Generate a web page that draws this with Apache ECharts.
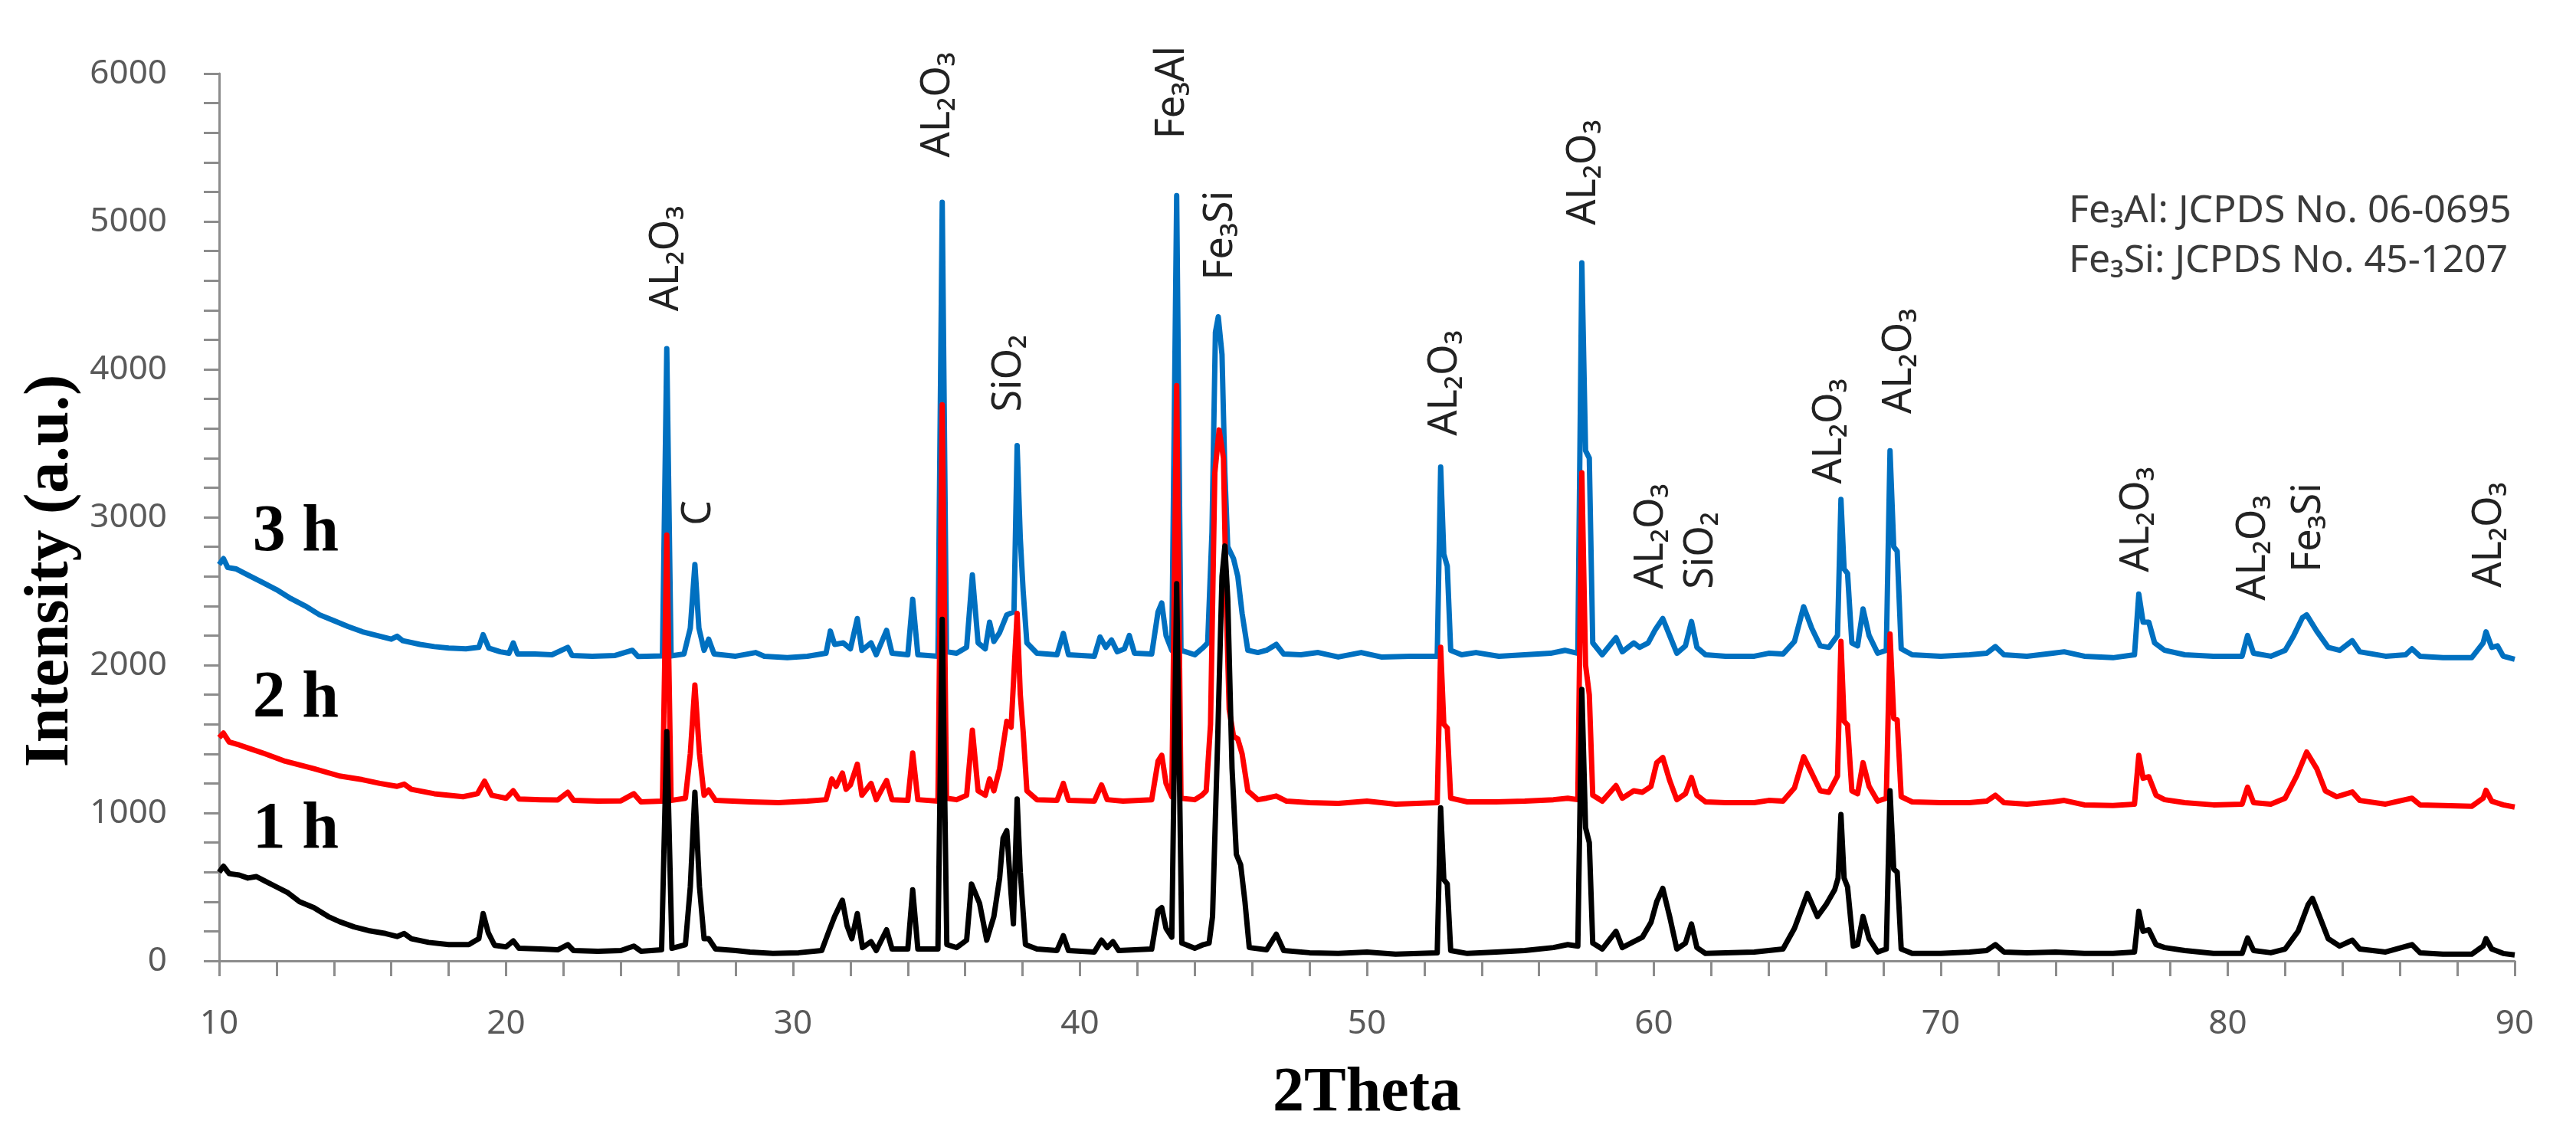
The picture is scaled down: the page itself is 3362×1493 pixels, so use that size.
<!DOCTYPE html>
<html>
<head>
<meta charset="utf-8">
<title>XRD 1 h / 2 h / 3 h</title>
<script src="https://cdn.jsdelivr.net/npm/echarts@6.0.0/dist/echarts.min.js"></script>
<style>
    html, body { margin: 0; padding: 0; background: #fff; }
    #xrdChart { width: 3362px; height: 1493px; }
</style>
</head>
<body>
<div id="xrdChart"></div>
<script>
// [2theta, intensity] pairs, one list per milling time
var scan3h = [
    [10.0, 2680], [10.15, 2720], [10.3, 2660], [10.6, 2650], [11.0, 2610], [11.5, 2560], [12.0, 2510], [12.5, 2450],
    [13.0, 2400], [13.5, 2340], [14.0, 2300], [14.5, 2260], [15.0, 2225], [15.5, 2200], [16.0, 2175], [16.2, 2195],
    [16.4, 2165], [17.0, 2140], [17.5, 2125], [18.0, 2115], [18.6, 2110], [19.05, 2120], [19.2, 2205], [19.4, 2115],
    [19.8, 2090], [20.1, 2080], [20.25, 2150], [20.4, 2075], [21.0, 2075], [21.6, 2070], [22.15, 2120], [22.3, 2065],
    [23.0, 2060], [23.8, 2065], [24.4, 2100], [24.6, 2058], [25.45, 2062], [25.6, 4140], [25.75, 2062], [26.2, 2075],
    [26.42, 2250], [26.58, 2680], [26.72, 2250], [26.9, 2100], [27.06, 2175], [27.25, 2075], [28.0, 2060], [28.7, 2085],
    [29.0, 2060], [29.8, 2050], [30.5, 2060], [31.15, 2080], [31.3, 2230], [31.45, 2140], [31.75, 2150], [32.0, 2110],
    [32.24, 2315], [32.4, 2100], [32.72, 2150], [32.9, 2070], [33.26, 2235], [33.45, 2080], [34.0, 2070], [34.17, 2445],
    [34.35, 2070], [35.05, 2060], [35.2, 5130], [35.35, 2090], [35.7, 2080], [36.05, 2120], [36.25, 2610], [36.45, 2150],
    [36.7, 2110], [36.85, 2290], [37.0, 2160], [37.2, 2220], [37.45, 2340], [37.7, 2360], [37.81, 3485], [37.92, 2860],
    [38.02, 2500], [38.15, 2150], [38.5, 2080], [39.2, 2070], [39.42, 2215], [39.6, 2070], [40.5, 2060], [40.7, 2190],
    [40.9, 2120], [41.1, 2170], [41.3, 2090], [41.55, 2110], [41.72, 2200], [41.9, 2080], [42.5, 2075], [42.72, 2360],
    [42.85, 2420], [43.0, 2200], [43.2, 2100], [43.37, 5175], [43.52, 2100], [44.0, 2070], [44.3, 2120], [44.45, 2150],
    [44.6, 2900], [44.72, 4250], [44.82, 4355], [44.95, 4100], [45.05, 3300], [45.15, 2800], [45.35, 2720], [45.5, 2600],
    [45.65, 2350], [45.85, 2100], [46.2, 2085], [46.5, 2100], [46.84, 2140], [47.1, 2075], [47.7, 2070], [48.3, 2085],
    [49.0, 2055], [49.8, 2085], [50.5, 2055], [51.5, 2060], [52.45, 2060], [52.57, 3340], [52.68, 2750], [52.8, 2670],
    [52.92, 2100], [53.3, 2070], [53.8, 2085], [54.6, 2060], [55.5, 2070], [56.4, 2080], [56.9, 2100], [57.35, 2080],
    [57.49, 4720], [57.62, 3450], [57.75, 3400], [57.87, 2150], [58.2, 2070], [58.68, 2185], [58.9, 2090], [59.3, 2150],
    [59.5, 2120], [59.8, 2150], [60.05, 2240], [60.31, 2315], [60.55, 2200], [60.8, 2080], [61.1, 2130], [61.31, 2295],
    [61.5, 2120], [61.8, 2070], [62.5, 2060], [63.5, 2060], [64.0, 2080], [64.5, 2075], [64.9, 2160], [65.22, 2395],
    [65.5, 2250], [65.8, 2130], [66.1, 2120], [66.4, 2200], [66.52, 3120], [66.63, 2650], [66.75, 2620], [66.9, 2150],
    [67.1, 2130], [67.29, 2380], [67.5, 2200], [67.8, 2080], [68.1, 2100], [68.23, 3450], [68.36, 2800], [68.48, 2770],
    [68.62, 2110], [69.0, 2070], [70.0, 2060], [71.0, 2070], [71.6, 2080], [71.9, 2125], [72.2, 2070], [73.0, 2060],
    [73.9, 2080], [74.3, 2090], [75.0, 2060], [76.0, 2050], [76.75, 2070], [76.9, 2480], [77.05, 2290], [77.25, 2290],
    [77.45, 2150], [77.8, 2100], [78.5, 2070], [79.5, 2060], [80.5, 2060], [80.69, 2200], [80.9, 2080], [81.5, 2060],
    [82.0, 2100], [82.3, 2200], [82.6, 2320], [82.75, 2340], [83.1, 2230], [83.5, 2120], [83.9, 2100], [84.34, 2165],
    [84.6, 2090], [85.5, 2060], [86.2, 2070], [86.42, 2110], [86.7, 2060], [87.5, 2050], [88.5, 2050], [88.9, 2150],
    [89.0, 2225], [89.2, 2120], [89.4, 2130], [89.6, 2060], [90.0, 2040]
];

var scan2h = [
    [10.0, 1510], [10.15, 1540], [10.35, 1480], [10.7, 1460], [11.0, 1440], [11.6, 1400], [12.3, 1350], [13.3, 1300],
    [14.2, 1250], [15.0, 1225], [15.6, 1200], [16.2, 1180], [16.45, 1195], [16.7, 1160], [17.5, 1130], [18.5, 1110],
    [19.0, 1130], [19.25, 1215], [19.5, 1120], [20.0, 1100], [20.25, 1150], [20.45, 1095], [21.2, 1090], [21.8, 1088],
    [22.15, 1140], [22.35, 1085], [23.2, 1080], [24.0, 1082], [24.45, 1130], [24.7, 1075], [25.45, 1080], [25.6, 2880],
    [25.75, 1085], [26.25, 1100], [26.42, 1400], [26.58, 1865], [26.74, 1400], [26.9, 1120], [27.06, 1155], [27.3, 1085],
    [28.5, 1075], [29.5, 1070], [30.5, 1080], [31.15, 1090], [31.35, 1230], [31.5, 1180], [31.72, 1270], [31.85, 1160],
    [32.0, 1190], [32.24, 1330], [32.4, 1120], [32.72, 1200], [32.9, 1090], [33.26, 1220], [33.45, 1090], [34.0, 1085],
    [34.17, 1405], [34.35, 1090], [35.05, 1080], [35.2, 3760], [35.35, 1100], [35.7, 1090], [36.05, 1120], [36.25, 1560],
    [36.45, 1150], [36.7, 1120], [36.85, 1230], [37.0, 1150], [37.2, 1300], [37.45, 1620], [37.6, 1580], [37.81, 2350],
    [37.92, 1800], [38.02, 1550], [38.15, 1150], [38.5, 1090], [39.2, 1085], [39.42, 1200], [39.6, 1085], [40.5, 1080],
    [40.75, 1190], [40.95, 1090], [41.5, 1080], [42.5, 1090], [42.72, 1350], [42.85, 1390], [43.0, 1200], [43.2, 1110],
    [43.37, 3890], [43.52, 1100], [44.0, 1090], [44.25, 1120], [44.4, 1150], [44.55, 1600], [44.7, 3300], [44.85, 3590],
    [45.0, 3400], [45.1, 2400], [45.2, 1700], [45.35, 1520], [45.5, 1500], [45.65, 1400], [45.85, 1150], [46.2, 1090],
    [46.5, 1100], [46.84, 1115], [47.2, 1080], [48.0, 1070], [49.0, 1065], [50.0, 1080], [51.0, 1060], [52.45, 1070],
    [52.57, 2120], [52.68, 1600], [52.8, 1575], [52.92, 1100], [53.5, 1075], [54.5, 1075], [55.5, 1080], [56.5, 1090],
    [57.0, 1100], [57.35, 1090], [57.49, 3300], [57.62, 2000], [57.75, 1800], [57.87, 1120], [58.2, 1080], [58.68, 1185],
    [58.9, 1100], [59.3, 1150], [59.6, 1140], [59.9, 1180], [60.1, 1340], [60.31, 1375], [60.55, 1220], [60.8, 1090],
    [61.1, 1130], [61.31, 1240], [61.5, 1120], [61.8, 1075], [62.5, 1070], [63.5, 1070], [64.0, 1085], [64.5, 1080],
    [64.9, 1170], [65.22, 1380], [65.5, 1270], [65.8, 1150], [66.1, 1140], [66.4, 1250], [66.52, 2160], [66.63, 1620],
    [66.75, 1595], [66.9, 1150], [67.1, 1130], [67.29, 1340], [67.5, 1180], [67.8, 1080], [68.1, 1100], [68.23, 2210],
    [68.36, 1640], [68.48, 1630], [68.62, 1110], [69.0, 1075], [70.0, 1070], [71.0, 1070], [71.6, 1080], [71.9, 1120],
    [72.2, 1070], [73.0, 1060], [73.9, 1075], [74.3, 1085], [75.0, 1055], [76.0, 1050], [76.75, 1060], [76.9, 1390],
    [77.05, 1235], [77.25, 1245], [77.5, 1120], [77.8, 1090], [78.5, 1070], [79.5, 1055], [80.5, 1060], [80.69, 1175],
    [80.9, 1070], [81.5, 1060], [82.0, 1100], [82.4, 1250], [82.75, 1412], [83.1, 1300], [83.4, 1150], [83.8, 1110],
    [84.34, 1142], [84.6, 1085], [85.5, 1060], [86.42, 1100], [86.7, 1055], [87.5, 1050], [88.5, 1045], [88.9, 1100],
    [89.0, 1153], [89.2, 1080], [89.6, 1055], [90.0, 1040]
];

var scan1h = [
    [10.0, 600], [10.15, 640], [10.35, 590], [10.7, 580], [11.0, 560], [11.3, 570], [11.6, 540], [12.0, 500],
    [12.4, 460], [12.8, 400], [13.3, 360], [13.8, 300], [14.2, 265], [14.7, 230], [15.2, 205], [15.8, 185],
    [16.2, 165], [16.45, 185], [16.7, 150], [17.3, 125], [18.0, 110], [18.7, 110], [19.05, 150], [19.2, 320],
    [19.38, 190], [19.6, 105], [20.0, 95], [20.25, 135], [20.45, 85], [21.2, 80], [21.8, 75], [22.15, 110],
    [22.35, 70], [23.2, 65], [24.0, 70], [24.45, 100], [24.7, 65], [25.42, 75], [25.6, 1550], [25.78, 85],
    [26.25, 110], [26.42, 500], [26.58, 1140], [26.74, 500], [26.9, 150], [27.06, 150], [27.3, 80], [28.0, 70],
    [28.5, 60], [29.3, 50], [30.2, 55], [31.0, 70], [31.25, 200], [31.45, 300], [31.72, 410], [31.88, 240],
    [32.05, 150], [32.24, 320], [32.42, 90], [32.72, 130], [32.9, 70], [33.26, 210], [33.45, 80], [34.0, 80],
    [34.17, 480], [34.35, 80], [35.05, 80], [35.2, 2310], [35.36, 110], [35.7, 90], [36.05, 140], [36.22, 520],
    [36.5, 390], [36.75, 140], [37.0, 300], [37.2, 560], [37.32, 830], [37.45, 880], [37.6, 450], [37.68, 250],
    [37.81, 1095], [37.92, 600], [38.1, 110], [38.5, 80], [39.2, 70], [39.42, 170], [39.6, 70], [40.5, 60],
    [40.75, 140], [40.95, 90], [41.15, 130], [41.35, 70], [42.5, 80], [42.72, 340], [42.85, 360], [43.0, 220],
    [43.2, 160], [43.37, 2550], [43.55, 120], [44.0, 85], [44.3, 110], [44.5, 120], [44.62, 300], [44.8, 1500],
    [44.95, 2600], [45.05, 2805], [45.15, 2450], [45.3, 1300], [45.45, 720], [45.6, 650], [45.75, 400], [45.9, 90],
    [46.5, 75], [46.84, 180], [47.1, 70], [48.0, 55], [49.0, 50], [50.0, 60], [51.0, 45], [52.45, 55],
    [52.57, 1035], [52.68, 550], [52.8, 520], [52.92, 70], [53.5, 50], [54.5, 60], [55.5, 70], [56.5, 90],
    [57.0, 110], [57.35, 100], [57.49, 1835], [57.62, 900], [57.75, 800], [57.87, 120], [58.2, 80], [58.68, 200],
    [58.9, 90], [59.3, 130], [59.6, 160], [59.9, 260], [60.1, 400], [60.31, 490], [60.55, 300], [60.8, 80],
    [61.1, 120], [61.31, 250], [61.5, 90], [61.8, 50], [62.5, 55], [63.5, 60], [64.0, 70], [64.5, 80],
    [64.9, 220], [65.35, 455], [65.7, 300], [66.0, 380], [66.3, 480], [66.42, 560], [66.52, 990], [66.63, 560],
    [66.75, 500], [66.95, 100], [67.1, 110], [67.29, 300], [67.5, 150], [67.8, 60], [68.1, 80], [68.23, 1150],
    [68.36, 620], [68.48, 600], [68.62, 80], [69.0, 50], [70.0, 50], [71.0, 60], [71.6, 70], [71.9, 110],
    [72.2, 60], [73.0, 55], [74.0, 60], [75.0, 50], [76.0, 50], [76.75, 60], [76.9, 335], [77.05, 200],
    [77.25, 210], [77.5, 110], [77.8, 90], [78.5, 70], [79.5, 50], [80.5, 50], [80.69, 155], [80.9, 70],
    [81.5, 55], [82.0, 80], [82.45, 200], [82.8, 380], [82.95, 423], [83.2, 300], [83.5, 150], [83.9, 100],
    [84.34, 140], [84.6, 80], [85.5, 60], [86.42, 110], [86.7, 55], [87.5, 45], [88.5, 45], [88.9, 100],
    [89.0, 150], [89.2, 80], [89.6, 50], [90.0, 40]
];

// phase labels: [2theta, intensity where the text starts, text]
var peakLabels = [
    [25.59, 4393, 'AL₂O₃'], [26.72, 2944, 'C'], [35.05, 5433, 'AL₂O₃'], [37.54, 3712, 'SiO₂'],
    [43.22, 5558, 'Fe₃Al'], [44.9, 4604, 'Fe₃Si'], [52.72, 3551, 'AL₂O₃'], [57.57, 4975, 'AL₂O₃'],
    [59.9, 2514, 'AL₂O₃'], [61.64, 2514, 'SiO₂'], [66.13, 3225, 'AL₂O₃'], [68.56, 3699, 'AL₂O₃'],
    [76.85, 2628, 'AL₂O₃'], [80.9, 2436, 'AL₂O₃'], [82.82, 2628, 'Fe₃Si'], [89.12, 2525, 'AL₂O₃']
];

// milling time labels next to each curve
var timeLabels = [[11.17, 2893, '3 h'], [11.17, 1768, '2 h'], [11.17, 881, '1 h']];

var cardLines = ['Fe₃Al: JCPDS No. 06-0695', 'Fe₃Si: JCPDS No. 45-1207'];

var xMin = 10, xMax = 90, xStep = 10;
var yMin = 0, yMax = 6000, yStep = 1000;

var seriesColors = {'3 h': '#0070c0', '2 h': '#ff0000', '1 h': '#000000'};

function traceSeries(name, data) {
    return {
        name: name,
        type: 'line',
        data: data,
        symbol: 'none',
        silent: true,
        lineStyle: {color: seriesColors[name], width: 7, join: 'round'}
    };
}

function labelItems(list) {
    var items = [];
    for (var i = 0; i < list.length; i++) {
        items.push({value: [list[i][0], list[i][1]], name: list[i][2]});
    }
    return items;
}

var xrdChart = echarts.init(document.getElementById('xrdChart'));

var axisGray = '#8c8c8c';
var tickFont = {fontFamily: 'Noto Sans', fontSize: 44, color: '#595959'};

var option = {
    animation: false,
    backgroundColor: '#ffffff',
    grid: {left: 286, right: 80, top: 96, bottom: 239, outerBoundsMode: 'none'},
    xAxis: {
        type: 'value',
        min: xMin, max: xMax, interval: xStep,
        name: '2Theta',
        nameLocation: 'middle',
        nameGap: 133,
        nameTextStyle: {fontFamily: 'Liberation Serif', fontWeight: 'bold', fontSize: 82, color: '#000'},
        axisLine: {show: true, lineStyle: {color: axisGray, width: 3}},
        axisTick: {show: true, length: 20, lineStyle: {color: axisGray, width: 3}},
        minorTick: {show: true, splitNumber: 5, length: 20, lineStyle: {color: axisGray, width: 3}},
        axisLabel: Object.assign({margin: 60, formatter: '{value}'}, tickFont),
        splitLine: {show: false}
    },
    yAxis: {
        type: 'value',
        min: yMin, max: yMax, interval: yStep,
        axisLine: {show: true, lineStyle: {color: axisGray, width: 3}},
        axisTick: {show: true, length: 20, lineStyle: {color: axisGray, width: 3}},
        minorTick: {show: true, splitNumber: 5, length: 20, lineStyle: {color: axisGray, width: 3}},
        axisLabel: Object.assign({margin: 68, formatter: function (v) { return String(v); }}, tickFont),
        splitLine: {show: false}
    },
    graphic: [
        {
            type: 'text', x: 67, y: 745, rotation: Math.PI / 2,
            style: {
                text: 'Intensity (a.u.)', fill: '#000',
                font: 'bold 82px "Liberation Serif"', align: 'center', verticalAlign: 'middle'
            }
        },
        {
            type: 'text', x: 2700, y: 276,
            style: {text: cardLines[0], fill: '#3a3a3a', font: '50px "Noto Sans"', align: 'left', verticalAlign: 'middle'}
        },
        {
            type: 'text', x: 2700, y: 341,
            style: {text: cardLines[1], fill: '#3a3a3a', font: '50px "Noto Sans"', align: 'left', verticalAlign: 'middle'}
        }
    ],
    series: [
        traceSeries('3 h', scan3h),
        traceSeries('2 h', scan2h),
        traceSeries('1 h', scan1h),
        {
            type: 'scatter',
            data: labelItems(peakLabels),
            symbolSize: 0,
            silent: true,
            z: 5,
            itemStyle: {opacity: 1},
            label: {
                show: true, position: 'inside', rotate: 90, align: 'left', verticalAlign: 'middle',
                formatter: '{b}', fontFamily: 'Noto Sans', fontSize: 52, color: '#222',
                textBorderWidth: 0, textShadowBlur: 0
            }
        },
        {
            type: 'scatter',
            data: labelItems(timeLabels),
            symbolSize: 0,
            silent: true,
            z: 5,
            itemStyle: {opacity: 1},
            label: {
                show: true, position: 'inside', align: 'left', verticalAlign: 'middle',
                formatter: '{b}', fontFamily: 'Liberation Serif', fontWeight: 'bold', fontSize: 86, color: '#000',
                textBorderWidth: 0, textShadowBlur: 0
            }
        }
    ]
};

xrdChart.setOption(option);
</script>
</body>
</html>
